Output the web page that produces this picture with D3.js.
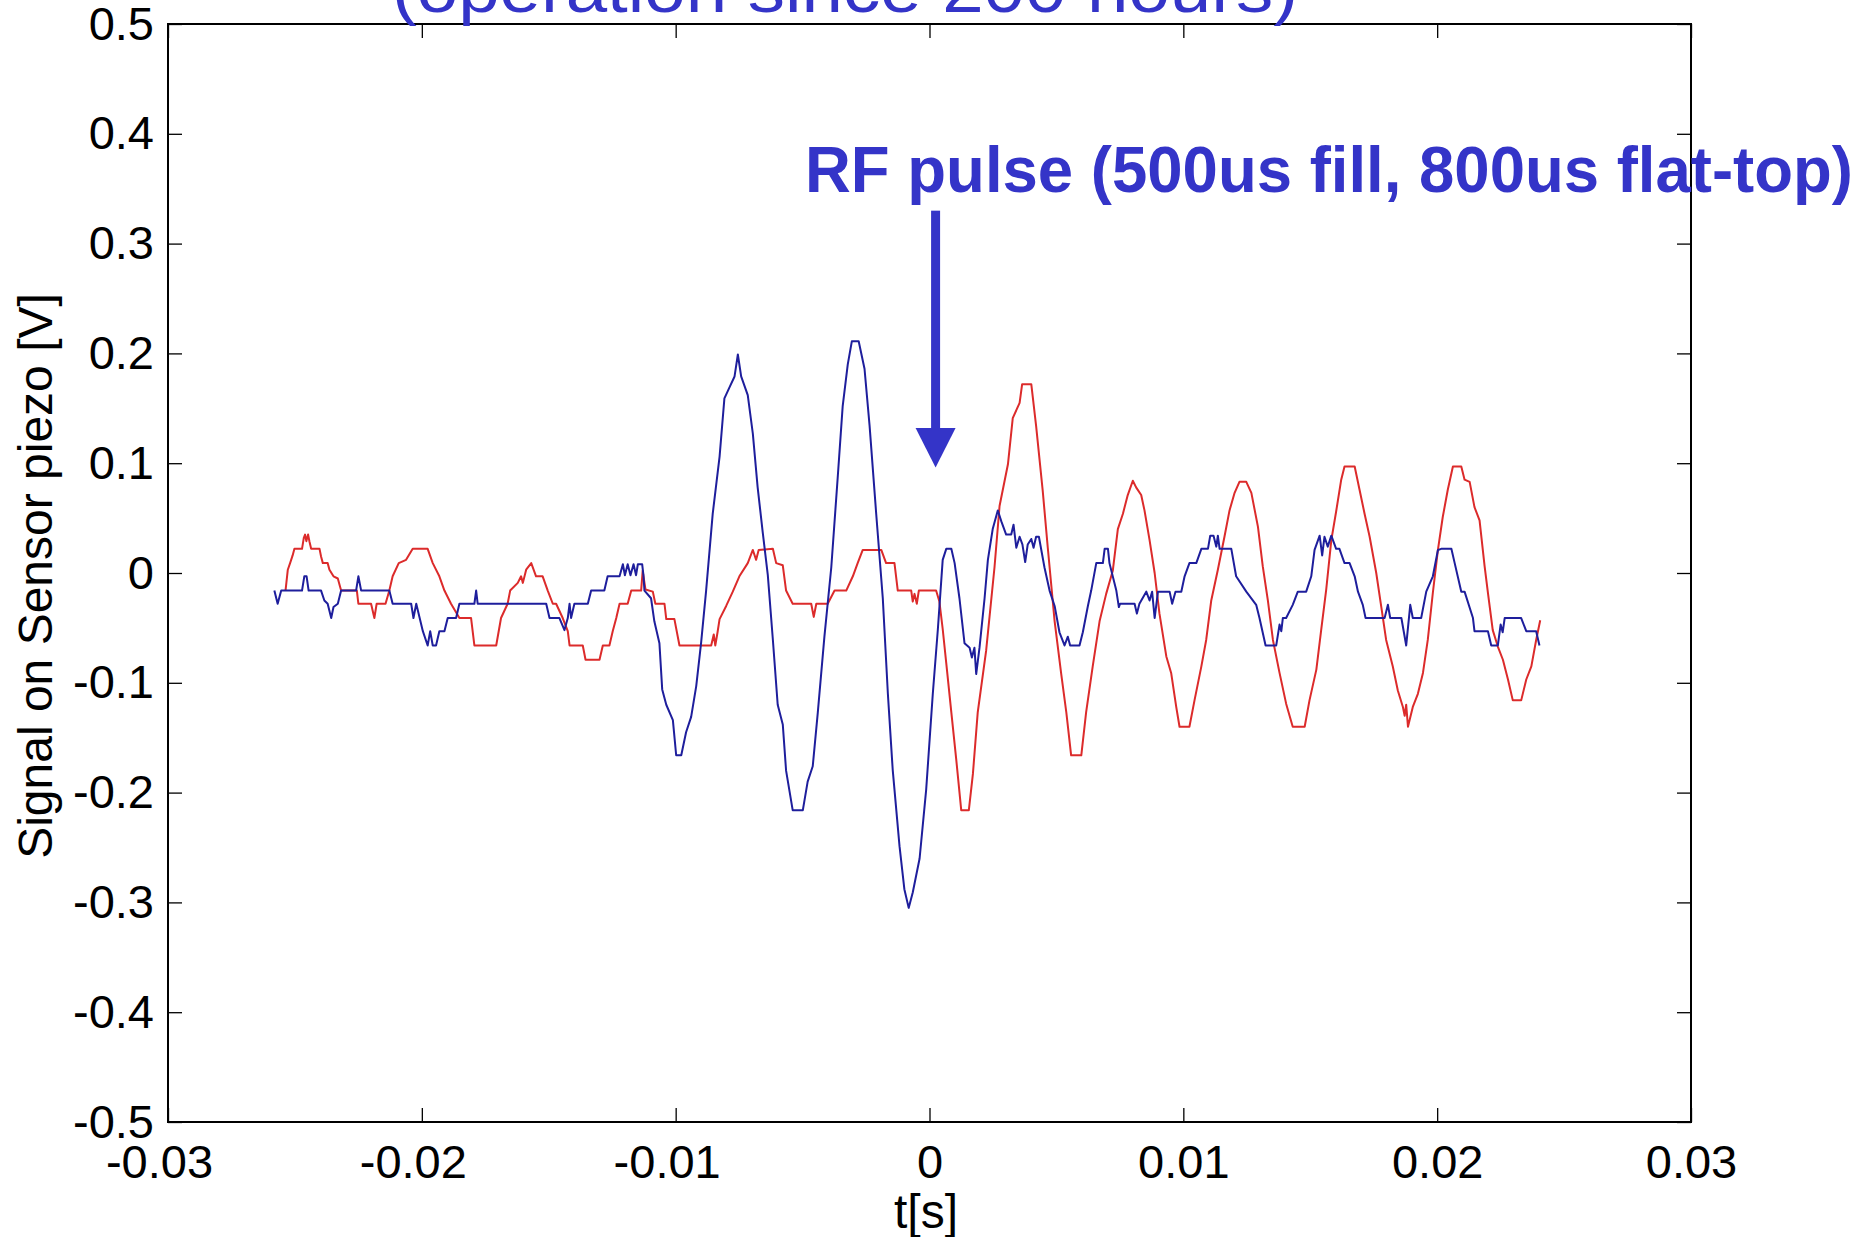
<!DOCTYPE html>
<html>
<head>
<meta charset="utf-8">
<script src="https://cdn.jsdelivr.net/npm/d3@7"></script>
<style>
  body { margin: 0; background: #fff; }
  svg { display: block; }
</style>
</head>
<body>
<div id="chart"></div>
<script>
// Piezo sensor signal around the RF pulse: two traces, time in s, signal in V.
const xTicks = [-0.03, -0.02, -0.01, 0, 0.01, 0.02, 0.03];
const yTicks = [-0.5, -0.4, -0.3, -0.2, -0.1, 0, 0.1, 0.2, 0.3, 0.4, 0.5];

// [t, V] vertices
const redTrace = [
  [-0.02537,-0.016],[-0.02528,0.003],[-0.02519,0.009],[-0.02509,0.016],[-0.02502,0.022],[-0.02472,0.022],
  [-0.02465,0.032],[-0.02460,0.035],[-0.02455,0.029],[-0.02448,0.035],[-0.02443,0.029],[-0.02436,0.022],
  [-0.02403,0.022],[-0.02397,0.015],[-0.02390,0.009],[-0.02371,0.009],[-0.02364,0.003],[-0.02348,-0.003],
  [-0.02331,-0.005],[-0.02318,-0.016],[-0.02256,-0.016],[-0.02250,-0.028],[-0.02200,-0.028],[-0.02187,-0.041],
  [-0.02178,-0.028],[-0.02143,-0.028],[-0.02128,-0.016],[-0.02115,-0.003],[-0.02091,0.009],[-0.02062,0.012],
  [-0.02036,0.022],[-0.01977,0.022],[-0.01957,0.009],[-0.01931,-0.003],[-0.01911,-0.016],[-0.01885,-0.028],
  [-0.01852,-0.041],[-0.01806,-0.041],[-0.01793,-0.066],[-0.01707,-0.066],[-0.01688,-0.041],[-0.01662,-0.028],
  [-0.01652,-0.016],[-0.01622,-0.009],[-0.01609,-0.003],[-0.01602,-0.009],[-0.01589,0.003],[-0.01569,0.009],
  [-0.01550,-0.003],[-0.01524,-0.003],[-0.01504,-0.016],[-0.01484,-0.028],[-0.01471,-0.028],[-0.01445,-0.041],
  [-0.01425,-0.053],[-0.01418,-0.066],[-0.01366,-0.066],[-0.01355,-0.079],[-0.01300,-0.079],[-0.01287,-0.066],
  [-0.01261,-0.066],[-0.01248,-0.053],[-0.01234,-0.041],[-0.01221,-0.028],[-0.01189,-0.028],[-0.01175,-0.016],
  [-0.01136,-0.016],[-0.01130,0.002],[-0.01119,-0.015],[-0.01090,-0.017],[-0.01080,-0.028],[-0.01044,-0.028],
  [-0.01037,-0.042],[-0.01005,-0.042],[-0.00985,-0.066],[-0.00860,-0.066],[-0.00850,-0.056],[-0.00844,-0.066],
  [-0.00835,-0.054],[-0.00827,-0.042],[-0.00801,-0.030],[-0.00775,-0.017],[-0.00749,-0.003],[-0.00716,0.009],
  [-0.00696,0.021],[-0.00683,0.012],[-0.00673,0.021],[-0.00617,0.022],[-0.00604,0.009],[-0.00578,0.007],
  [-0.00565,-0.016],[-0.00539,-0.028],[-0.00466,-0.028],[-0.00456,-0.040],[-0.00446,-0.028],[-0.00401,-0.028],
  [-0.00374,-0.016],[-0.00328,-0.016],[-0.00302,-0.003],[-0.00283,0.009],[-0.00263,0.021],[-0.00190,0.021],
  [-0.00171,0.009],[-0.00138,0.009],[-0.00125,-0.016],[-0.00072,-0.016],[-0.00066,-0.026],[-0.00059,-0.019],
  [-0.00050,-0.028],[-0.00042,-0.016],[0.00026,-0.016],[0.00039,-0.026],[0.00052,-0.051],[0.00066,-0.082],
  [0.00086,-0.127],[0.00105,-0.169],[0.00125,-0.216],[0.00155,-0.216],[0.00171,-0.183],[0.00190,-0.127],
  [0.00223,-0.071],[0.00256,0.005],[0.00276,0.061],[0.00309,0.099],[0.00328,0.141],[0.00355,0.155],
  [0.00365,0.172],[0.00401,0.172],[0.00420,0.134],[0.00446,0.075],[0.00466,0.023],[0.00493,-0.044],
  [0.00519,-0.092],[0.00539,-0.127],[0.00558,-0.166],[0.00598,-0.166],[0.00617,-0.127],[0.00643,-0.085],
  [0.00670,-0.044],[0.00696,-0.019],[0.00722,0.002],[0.00742,0.040],[0.00762,0.054],[0.00781,0.071],
  [0.00801,0.084],[0.00814,0.078],[0.00834,0.071],[0.00847,0.057],[0.00867,0.030],[0.00887,0.000],
  [0.00906,-0.037],[0.00933,-0.076],[0.00952,-0.091],[0.00972,-0.122],[0.00985,-0.140],[0.01024,-0.140],
  [0.01044,-0.116],[0.01071,-0.085],[0.01090,-0.061],[0.01110,-0.025],[0.01136,0.003],[0.01162,0.033],
  [0.01182,0.057],[0.01202,0.073],[0.01221,0.083],[0.01248,0.083],[0.01268,0.073],[0.01294,0.042],
  [0.01313,0.006],[0.01333,-0.025],[0.01353,-0.061],[0.01379,-0.091],[0.01405,-0.119],[0.01431,-0.140],
  [0.01478,-0.140],[0.01497,-0.116],[0.01524,-0.088],[0.01543,-0.052],[0.01563,-0.015],[0.01583,0.030],
  [0.01602,0.056],[0.01622,0.085],[0.01635,0.097],[0.01675,0.097],[0.01694,0.076],[0.01714,0.054],
  [0.01734,0.033],[0.01760,0.000],[0.01780,-0.031],[0.01799,-0.061],[0.01825,-0.085],[0.01845,-0.107],
  [0.01865,-0.122],[0.01872,-0.130],[0.01878,-0.120],[0.01885,-0.140],[0.01904,-0.122],[0.01924,-0.110],
  [0.01944,-0.091],[0.01963,-0.061],[0.01983,-0.018],[0.02003,0.021],[0.02022,0.051],[0.02042,0.076],
  [0.02062,0.097],[0.02095,0.097],[0.02108,0.085],[0.02128,0.083],[0.02147,0.060],[0.02167,0.048],
  [0.02187,0.006],[0.02200,-0.018],[0.02219,-0.052],[0.02239,-0.067],[0.02259,-0.079],[0.02279,-0.097],
  [0.02298,-0.116],[0.02331,-0.116],[0.02351,-0.097],[0.02371,-0.085],[0.02390,-0.061],[0.02406,-0.043]
];

const blueTrace = [
  [-0.02581,-0.016],[-0.02568,-0.028],[-0.02554,-0.016],[-0.02472,-0.016],[-0.02463,-0.003],[-0.02454,-0.003],
  [-0.02446,-0.016],[-0.02397,-0.016],[-0.02384,-0.025],[-0.02371,-0.028],[-0.02357,-0.041],[-0.02348,-0.031],
  [-0.02331,-0.028],[-0.02318,-0.016],[-0.02259,-0.016],[-0.02250,-0.003],[-0.02239,-0.016],[-0.02128,-0.016],
  [-0.02115,-0.028],[-0.02042,-0.028],[-0.02033,-0.041],[-0.02022,-0.028],[-0.01996,-0.053],[-0.01977,-0.066],
  [-0.01967,-0.053],[-0.01957,-0.066],[-0.01944,-0.066],[-0.01931,-0.053],[-0.01911,-0.053],[-0.01898,-0.041],
  [-0.01865,-0.041],[-0.01852,-0.028],[-0.01793,-0.028],[-0.01786,-0.016],[-0.01780,-0.028],[-0.01510,-0.028],
  [-0.01497,-0.041],[-0.01458,-0.041],[-0.01438,-0.052],[-0.01425,-0.041],[-0.01418,-0.028],[-0.01412,-0.041],
  [-0.01399,-0.028],[-0.01346,-0.028],[-0.01333,-0.016],[-0.01281,-0.016],[-0.01268,-0.003],[-0.01221,-0.003],
  [-0.01208,0.008],[-0.01200,-0.002],[-0.01189,0.008],[-0.01178,-0.002],[-0.01166,0.008],[-0.01156,-0.002],
  [-0.01149,0.008],[-0.01132,0.008],[-0.01127,-0.002],[-0.01123,-0.016],[-0.01097,-0.023],[-0.01084,-0.044],
  [-0.01064,-0.064],[-0.01053,-0.106],[-0.01037,-0.120],[-0.01011,-0.134],[-0.00998,-0.166],[-0.00978,-0.166],
  [-0.00959,-0.145],[-0.00939,-0.131],[-0.00919,-0.103],[-0.00900,-0.064],[-0.00880,-0.016],[-0.00854,0.054],
  [-0.00827,0.106],[-0.00808,0.159],[-0.00788,0.169],[-0.00768,0.179],[-0.00755,0.199],[-0.00742,0.179],
  [-0.00716,0.162],[-0.00696,0.127],[-0.00677,0.078],[-0.00657,0.037],[-0.00637,-0.002],[-0.00617,-0.061],
  [-0.00598,-0.120],[-0.00578,-0.138],[-0.00565,-0.180],[-0.00539,-0.216],[-0.00499,-0.216],[-0.00480,-0.190],
  [-0.00460,-0.176],[-0.00440,-0.127],[-0.00414,-0.058],[-0.00387,0.005],[-0.00361,0.089],[-0.00342,0.152],
  [-0.00322,0.190],[-0.00306,0.211],[-0.00279,0.211],[-0.00256,0.186],[-0.00236,0.134],[-0.00210,0.054],
  [-0.00184,-0.023],[-0.00164,-0.110],[-0.00145,-0.179],[-0.00118,-0.249],[-0.00099,-0.288],[-0.00082,-0.305],
  [-0.00066,-0.291],[-0.00039,-0.260],[-0.00013,-0.197],[0.00013,-0.110],[0.00033,-0.051],[0.00052,0.012],
  [0.00066,0.022],[0.00086,0.022],[0.00099,0.009],[0.00118,-0.023],[0.00138,-0.064],[0.00158,-0.068],
  [0.00167,-0.077],[0.00177,-0.068],[0.00184,-0.092],[0.00197,-0.068],[0.00217,-0.023],[0.00230,0.012],
  [0.00249,0.040],[0.00269,0.057],[0.00283,0.047],[0.00302,0.035],[0.00322,0.035],[0.00331,0.044],
  [0.00342,0.023],[0.00355,0.033],[0.00366,0.026],[0.00377,0.010],[0.00387,0.026],[0.00401,0.031],
  [0.00410,0.023],[0.00420,0.033],[0.00431,0.033],[0.00453,0.005],[0.00473,-0.016],[0.00493,-0.030],
  [0.00512,-0.054],[0.00532,-0.066],[0.00545,-0.058],[0.00554,-0.066],[0.00591,-0.066],[0.00604,-0.054],
  [0.00624,-0.030],[0.00637,-0.016],[0.00657,0.009],[0.00683,0.009],[0.00690,0.022],[0.00703,0.022],
  [0.00709,0.009],[0.00736,-0.016],[0.00746,-0.031],[0.00751,-0.028],[0.00808,-0.028],[0.00817,-0.037],
  [0.00827,-0.028],[0.00854,-0.017],[0.00867,-0.025],[0.00877,-0.017],[0.00887,-0.041],[0.00900,-0.017],
  [0.00946,-0.017],[0.00956,-0.028],[0.00969,-0.017],[0.00992,-0.017],[0.01005,-0.003],[0.01024,0.009],
  [0.01051,0.009],[0.01071,0.022],[0.01097,0.022],[0.01106,0.034],[0.01119,0.034],[0.01130,0.024],
  [0.01136,0.034],[0.01143,0.022],[0.01189,0.022],[0.01208,-0.003],[0.01248,-0.017],[0.01287,-0.029],
  [0.01300,-0.041],[0.01324,-0.066],[0.01366,-0.066],[0.01379,-0.047],[0.01386,-0.053],[0.01392,-0.041],
  [0.01405,-0.041],[0.01431,-0.029],[0.01451,-0.017],[0.01484,-0.017],[0.01504,-0.003],[0.01517,0.021],
  [0.01537,0.034],[0.01547,0.016],[0.01556,0.033],[0.01569,0.024],[0.01583,0.034],[0.01602,0.022],
  [0.01615,0.022],[0.01635,0.009],[0.01655,0.009],[0.01675,-0.003],[0.01688,-0.017],[0.01707,-0.029],
  [0.01718,-0.041],[0.01793,-0.041],[0.01806,-0.029],[0.01815,-0.041],[0.01859,-0.041],[0.01878,-0.066],
  [0.01894,-0.029],[0.01904,-0.041],[0.01937,-0.041],[0.01957,-0.017],[0.01983,-0.003],[0.02003,0.021],
  [0.02016,0.022],[0.02056,0.022],[0.02069,0.009],[0.02095,-0.017],[0.02108,-0.017],[0.02141,-0.041],
  [0.02147,-0.053],[0.02200,-0.053],[0.02213,-0.066],[0.02239,-0.066],[0.02250,-0.047],[0.02258,-0.054],
  [0.02266,-0.041],[0.02331,-0.041],[0.02351,-0.053],[0.02390,-0.053],[0.02403,-0.066]
];

// RF pulse arrow, in data units: time, shaft top, head base, tip
const arrowAt = [0.00024, 0.33, 0.132, 0.096];

const W = 1862, H = 1237;
const margin = { top: 24, right: 171, bottom: 115, left: 168 };
const innerW = W - margin.left - margin.right;
const innerH = H - margin.top - margin.bottom;
const FONT = '"Liberation Sans", Arial, Helvetica, sans-serif';
const annoColor = '#3434c8';

const svg = d3.select('#chart').append('svg')
  .attr('width', W).attr('height', H)
  .style('font-family', FONT);

const x = d3.scaleLinear().domain([-0.03, 0.03]).range([margin.left, margin.left + innerW]);
const y = d3.scaleLinear().domain([-0.5, 0.5]).range([margin.top + innerH, margin.top]);

const fmtX = d => String(+d.toFixed(2));
const fmtY = d => String(+d.toFixed(1));

function styleAxis(g) {
  g.select('.domain').remove();
  g.selectAll('.tick line').attr('stroke', '#000').attr('stroke-width', 1.3);
  g.selectAll('.tick text').attr('fill', '#000').style('font-family', FONT).style('font-size', '47px');
}

svg.append('g')
  .attr('transform', `translate(0,${margin.top + innerH})`)
  .call(d3.axisBottom(x).tickValues(xTicks).tickFormat(fmtX).tickSizeInner(-14).tickSizeOuter(0).tickPadding(23))
  .call(styleAxis)
  .call(g => g.selectAll('.tick text').attr('dx', d => d < 0 ? -9 : 0));

svg.append('g')
  .attr('transform', `translate(0,${margin.top})`)
  .call(d3.axisTop(x).tickValues(xTicks).tickFormat('').tickSizeInner(-14).tickSizeOuter(0))
  .call(styleAxis);

svg.append('g')
  .attr('transform', `translate(${margin.left},0)`)
  .call(d3.axisLeft(y).tickValues(yTicks).tickFormat(fmtY).tickSizeInner(-14).tickSizeOuter(0).tickPadding(14))
  .call(styleAxis);

svg.append('g')
  .attr('transform', `translate(${margin.left + innerW},0)`)
  .call(d3.axisRight(y).tickValues(yTicks).tickFormat('').tickSizeInner(-14).tickSizeOuter(0))
  .call(styleAxis);

svg.append('rect')
  .attr('x', margin.left).attr('y', margin.top)
  .attr('width', innerW).attr('height', innerH)
  .attr('fill', 'none').attr('stroke', '#000').attr('stroke-width', 2);

const line = d3.line().x(d => x(d[0])).y(d => y(d[1]));

svg.append('path').datum(redTrace)
  .attr('d', line).attr('fill', 'none')
  .attr('stroke', '#dc2b2b').attr('stroke-width', 2).attr('stroke-linejoin', 'round');

svg.append('path').datum(blueTrace)
  .attr('d', line).attr('fill', 'none')
  .attr('stroke', '#1e1e9c').attr('stroke-width', 2).attr('stroke-linejoin', 'round');

// axis labels
svg.append('text')
  .attr('x', 926).attr('y', 1228)
  .attr('text-anchor', 'middle')
  .style('font-size', '48px')
  .text('t[s]');

svg.append('text')
  .attr('transform', 'translate(52,576) rotate(-90)')
  .attr('text-anchor', 'middle')
  .style('font-size', '48px')
  .text('Signal on Sensor piezo [V]');

// annotations
const ax = x(arrowAt[0]);
svg.append('rect')
  .attr('x', ax - 4.5).attr('y', y(arrowAt[1]))
  .attr('width', 9).attr('height', y(arrowAt[2]) - y(arrowAt[1]) + 1)
  .attr('fill', annoColor);
svg.append('path')
  .attr('d', `M${ax - 20},${y(arrowAt[2])}L${ax + 20},${y(arrowAt[2])}L${ax},${y(arrowAt[3])}Z`)
  .attr('fill', annoColor);

svg.append('text')
  .attr('x', 805).attr('y', 192)
  .attr('textLength', 1048).attr('lengthAdjust', 'spacingAndGlyphs')
  .attr('fill', annoColor)
  .style('font-size', '64px').style('font-weight', 'bold')
  .text('RF pulse (500us fill, 800us flat-top)');

svg.append('text')
  .attr('x', 392).attr('y', 12)
  .attr('textLength', 906).attr('lengthAdjust', 'spacingAndGlyphs')
  .attr('fill', annoColor)
  .style('font-size', '66px')
  .text('(operation since 200 hours)');
</script>
</body>
</html>
